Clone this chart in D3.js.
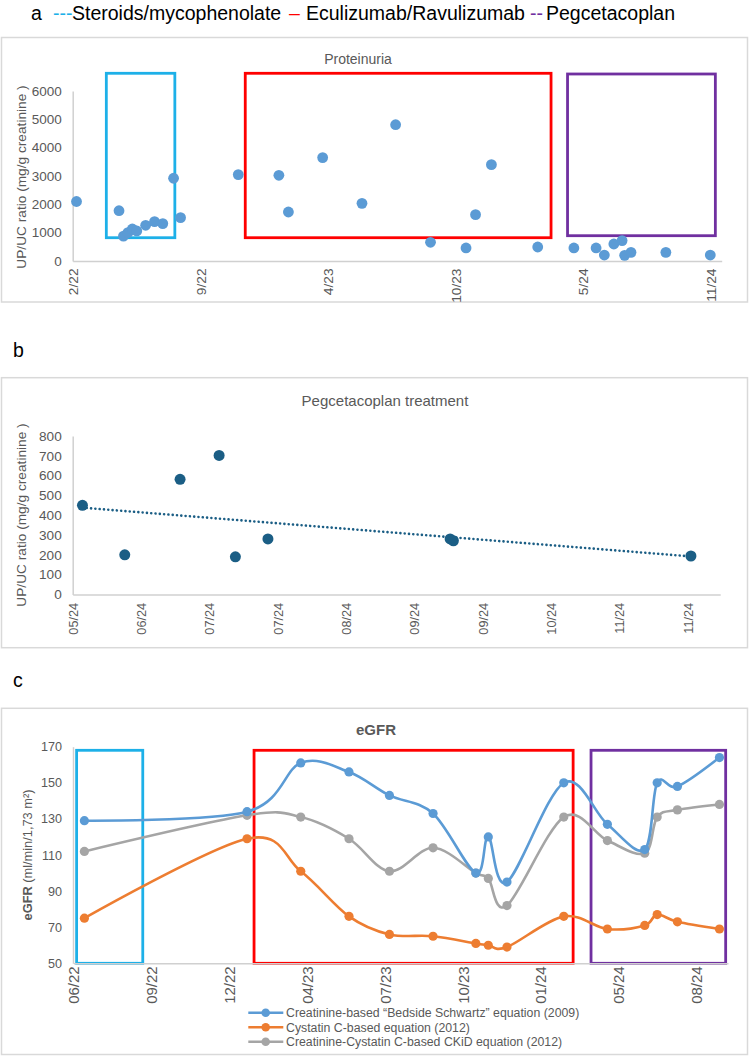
<!DOCTYPE html>
<html>
<head>
<meta charset="utf-8">
<script src="https://cdn.jsdelivr.net/npm/d3@7"></script>
<style>
body{margin:0;background:#fff;}
svg{display:block;font-family:"Liberation Sans",Arial,sans-serif;}
</style>
</head>
<body>
<div id="chart"></div>
<script>
var parse = d3.timeParse("%Y-%m-%d");

// ---- a: proteinuria over time
var protDates = ["2022-03-06","2022-05-12","2022-05-19","2022-05-26","2022-06-02","2022-06-09","2022-06-23",
  "2022-07-07","2022-07-20","2022-08-06","2022-08-17","2022-11-16","2023-01-19","2023-02-03","2023-03-29",
  "2023-05-30","2023-07-22","2023-09-15","2023-11-10","2023-11-25","2023-12-20","2024-03-02","2024-04-28",
  "2024-06-02","2024-06-15","2024-06-30","2024-07-13","2024-07-17","2024-07-27","2024-09-20","2024-11-29"];
var protValues = [2100,1775,880,1000,1130,1060,1260,1390,1320,2920,1530,3050,3025,1730,3650,
  2035,4810,660,460,1635,3400,495,460,460,210,600,720,200,305,305,210];
var protTickDates = ["2022-02-28","2022-09-17","2023-04-06","2023-10-24","2024-05-12","2024-11-29"];
var protYTicks = [0,1000,2000,3000,4000,5000,6000];

// treatment windows drawn on a (dates + value span)
var treatNames = ["Steroids/mycophenolate","Eculizumab/Ravulizumab","Pegcetacoplan"];
var treatColors = ["#1DB0E8","#FF0000","#7030A0"];
var protBoxFrom = ["2022-04-22","2022-11-27","2024-04-18"];
var protBoxTo   = ["2022-08-08","2024-03-23","2024-12-07"];
var protBoxLow  = [822,822,893];
var protBoxHigh = [6625,6625,6600];

// ---- b: pegcetacoplan treatment
var pegDates = ["2024-05-23","2024-06-05","2024-06-22","2024-07-04","2024-07-09","2024-07-19","2024-09-13","2024-09-14","2024-11-26"];
var pegValues = [450,200,581,702,190,280,280,271,194];
var pegTickDates = ["2024-05-20","2024-06-10","2024-07-01","2024-07-22","2024-08-12","2024-09-02","2024-09-23","2024-10-14","2024-11-04","2024-11-25"];
var pegYTicks = [0,100,200,300,400,500,600,700,800];

// ---- c: eGFR
var gfrDates = ["2022-06-24","2023-01-19","2023-03-29","2023-05-30","2023-07-21","2023-09-15","2023-11-09","2023-11-25",
  "2023-12-19","2024-03-01","2024-04-26","2024-06-13","2024-06-29","2024-07-25","2024-09-17"];
var gfrSchwartz = [129,134,161,156,143,133,100,120,95,150,127,113,150,148,164];
var gfrCystatin = [75,119,101,76,66,65,61,60,59,76,69,71,77,73,69];
var gfrCkid     = [112,132,131,119,101,114,100,97,82,131,118,111,131,135,138];
var gfrSeriesNames = ["Creatinine-based \u201cBedside Schwartz\u201d equation (2009)","Cystatin C-based equation (2012)","Creatinine-Cystatin C-based CKiD equation (2012)"];
var gfrColors = ["#5B9BD5","#ED7D31","#A5A5A5"];
var gfrTickDates = ["2022-06-10","2022-09-18","2022-12-27","2023-04-06","2023-07-15","2023-10-23","2024-01-31","2024-05-10","2024-08-18"];
var gfrYTicks = [50,70,90,110,130,150,170];
var gfrBoxFrom = ["2022-06-14","2023-01-28","2024-04-05"];
var gfrBoxTo   = ["2022-09-07","2024-03-13","2024-09-25"];
var gfrBoxLow = 50, gfrBoxHigh = 168;

var W = 750, H = 1057;
var grey = "#595959", axisGrey = "#D0D0D0", frameGrey = "#D9D9D9";

var svg = d3.select("#chart").append("svg").attr("width", W).attr("height", H);

function frame(y0, y1){
  svg.append("rect").attr("x",1.5).attr("y",y0).attr("width",746).attr("height",y1-y0)
    .attr("fill","none").attr("stroke",frameGrey).attr("stroke-width",1.5);
}

function yAxis(g, y, x0, ticks, size){
  var ax = g.append("g").attr("transform","translate("+x0+",0)")
    .call(d3.axisLeft(y).tickValues(ticks).tickFormat(d3.format("d")).tickSize(0).tickPadding(11).tickSizeOuter(0));
  ax.select(".domain").attr("stroke",axisGrey).attr("stroke-width",1.5);
  ax.selectAll("text").attr("fill",grey).style("font-size",size+"px").style("font-family","'Liberation Sans',Arial,sans-serif");
}

function xAxis(g, x, y0, ticks, fmt, size, pad){
  var ax = g.append("g").attr("transform","translate(0,"+y0+")")
    .call(d3.axisBottom(x).tickValues(ticks).tickFormat(fmt).tickSize(0).tickSizeOuter(0));
  ax.select(".domain").attr("stroke",axisGrey).attr("stroke-width",1.5);
  ax.selectAll("text").attr("fill",grey).style("font-size",size+"px").style("font-family","'Liberation Sans',Arial,sans-serif")
    .attr("transform","rotate(-90)").attr("x",-pad).attr("y",0).attr("dy","0.36em").style("text-anchor","end");
}

// ---- top legend
var leg = svg.append("g").style("font-size","19.5px");
leg.append("text").attr("x",31).attr("y",20).text("a");
leg.append("text").attr("x",53).attr("y",20).attr("fill",treatColors[0]).text("---");
leg.append("text").attr("x",72).attr("y",20).text(treatNames[0]);
leg.append("text").attr("x",289).attr("y",20).attr("fill",treatColors[1]).text("\u2013");
leg.append("text").attr("x",306).attr("y",20).text(treatNames[1]);
leg.append("text").attr("x",530).attr("y",20).attr("fill",treatColors[2]).text("--");
leg.append("text").attr("x",546).attr("y",20).text(treatNames[2]);

// ================= panel a
frame(37.5, 302);
var ga = svg.append("g");
var xa = d3.scaleTime().domain([parse("2022-02-28"), parse("2024-12-17")]).range([72.7, 721.7]);
var ya = d3.scaleLinear().domain([0,6000]).range([261, 91]);

ga.append("text").attr("x",358).attr("y",64).attr("text-anchor","middle").attr("fill",grey)
  .style("font-size","14px").text("Proteinuria");

ga.selectAll("rect.box").data(treatColors).enter().append("rect").attr("class","box")
  .attr("x",(c,i)=>xa(parse(protBoxFrom[i])))
  .attr("width",(c,i)=>xa(parse(protBoxTo[i]))-xa(parse(protBoxFrom[i])))
  .attr("y",(c,i)=>ya(protBoxHigh[i]))
  .attr("height",(c,i)=>ya(protBoxLow[i])-ya(protBoxHigh[i]))
  .attr("fill","none").attr("stroke",c=>c).attr("stroke-width",2.8);

yAxis(ga, ya, 72.7, protYTicks, 13.5);
xAxis(ga, xa, 261, protTickDates.map(parse), d3.timeFormat("%-m/%y"), 13.7, 7.5);

ga.append("text").attr("transform","translate(26,177) rotate(-90)").attr("text-anchor","middle")
  .attr("fill",grey).style("font-size","13.7px").text("UP/UC ratio (mg/g creatinine )");

ga.selectAll("circle").data(protValues).enter().append("circle")
  .attr("cx",(v,i)=>xa(parse(protDates[i]))).attr("cy",v=>ya(v)).attr("r",5.4).attr("fill","#5B9BD5");

// ================= panel b
svg.append("text").attr("x",13).attr("y",357).style("font-size","19.5px").text("b");
frame(377.7, 647.7);
var gb = svg.append("g");
var xb = d3.scaleTime().domain([parse("2024-05-20"), parse("2024-12-05")]).range([72.7, 720.2]);
var yb = d3.scaleLinear().domain([0,800]).range([594.4, 436]);

gb.append("text").attr("x",385).attr("y",406).attr("text-anchor","middle").attr("fill",grey)
  .style("font-size","15px").text("Pegcetacoplan treatment");

yAxis(gb, yb, 72.7, pegYTicks, 13.6);
xAxis(gb, xb, 594.4, pegTickDates.map(parse), d3.timeFormat("%m/%y"), 12.7, 8.5);

gb.append("text").attr("transform","translate(26,515) rotate(-90)").attr("text-anchor","middle")
  .attr("fill",grey).style("font-size","13.7px").text("UP/UC ratio (mg/g creatinine )");

// linear trend (least squares on the points)
var pegPts = pegValues.map((v,i)=>[parse(pegDates[i]).getTime(), v]);
var mx = d3.mean(pegPts, p=>p[0]), my = d3.mean(pegPts, p=>p[1]);
var slope = d3.sum(pegPts, p=>(p[0]-mx)*(p[1]-my)) / d3.sum(pegPts, p=>(p[0]-mx)*(p[0]-mx));
var xEnds = d3.extent(pegPts, p=>p[0]);
gb.append("line")
  .attr("x1",xb(new Date(xEnds[0]))).attr("y1",yb(my+slope*(xEnds[0]-mx)))
  .attr("x2",xb(new Date(xEnds[1]))).attr("y2",yb(my+slope*(xEnds[1]-mx)))
  .attr("stroke","#1B5E85").attr("stroke-width",2.6).attr("stroke-linecap","round")
  .attr("stroke-dasharray","0.01 4.3");

gb.selectAll("circle").data(pegValues).enter().append("circle")
  .attr("cx",(v,i)=>xb(parse(pegDates[i]))).attr("cy",v=>yb(v)).attr("r",5.5).attr("fill","#1B5E85");

// ================= panel c
svg.append("text").attr("x",13).attr("y",687).style("font-size","19.5px").text("c");
frame(708.3, 1054.5);
var gc = svg.append("g");
var xc = d3.scaleTime().domain([parse("2022-06-10"), parse("2024-09-28")]).range([73.5, 728]);
var yc = d3.scaleLinear().domain([50,170]).range([963.3, 746.7]);

gc.append("text").attr("x",376).attr("y",735).attr("text-anchor","middle").attr("fill",grey)
  .style("font-size","15px").style("font-weight","bold").text("eGFR");

gc.selectAll("rect.box").data(treatColors).enter().append("rect").attr("class","box")
  .attr("x",(c,i)=>xc(parse(gfrBoxFrom[i])))
  .attr("width",(c,i)=>xc(parse(gfrBoxTo[i]))-xc(parse(gfrBoxFrom[i])))
  .attr("y",yc(gfrBoxHigh)).attr("height",yc(gfrBoxLow)-yc(gfrBoxHigh))
  .attr("fill","none").attr("stroke",c=>c).attr("stroke-width",2.8);

yAxis(gc, yc, 73, gfrYTicks, 12.6);
xAxis(gc, xc, 963.3, gfrTickDates.map(parse), d3.timeFormat("%m/%y"), 15, 3);

var ylab = gc.append("text").attr("transform","translate(31.5,855) rotate(-90)").attr("text-anchor","middle")
  .attr("fill",grey).style("font-size","12.8px");
ylab.append("tspan").style("font-weight","bold").text("eGFR");
ylab.append("tspan").text(" (ml/min/1,73 m\u00b2)");

var gfrSeries = [gfrSchwartz, gfrCystatin, gfrCkid];
// smoothed lines like the spreadsheet's
var line = d3.line().x((v,i)=>xc(parse(gfrDates[i]))).y(v=>yc(v)).curve(d3.curveCatmullRom.alpha(0));

// draw gray, orange, then blue on top
[2,1,0].forEach(function(k){
  gc.append("path").attr("d", line(gfrSeries[k])).attr("fill","none")
    .attr("stroke",gfrColors[k]).attr("stroke-width",2.6);
  gc.append("g").selectAll("circle").data(gfrSeries[k]).enter().append("circle")
    .attr("cx",(v,i)=>xc(parse(gfrDates[i]))).attr("cy",v=>yc(v)).attr("r",4.6).attr("fill",gfrColors[k]);
});

// legend
var lg = gc.append("g");
gfrSeriesNames.forEach(function(n,i){
  var yy = 1012.7 + i*14.5;
  lg.append("line").attr("x1",248.3).attr("x2",283.3).attr("y1",yy).attr("y2",yy)
    .attr("stroke",gfrColors[i]).attr("stroke-width",2.6);
  lg.append("circle").attr("cx",265.7).attr("cy",yy).attr("r",4.3).attr("fill",gfrColors[i]);
  lg.append("text").attr("x",286).attr("y",yy).attr("dy","0.36em").attr("fill",grey)
    .style("font-size","12.3px").text(n);
});
</script>
</body>
</html>
